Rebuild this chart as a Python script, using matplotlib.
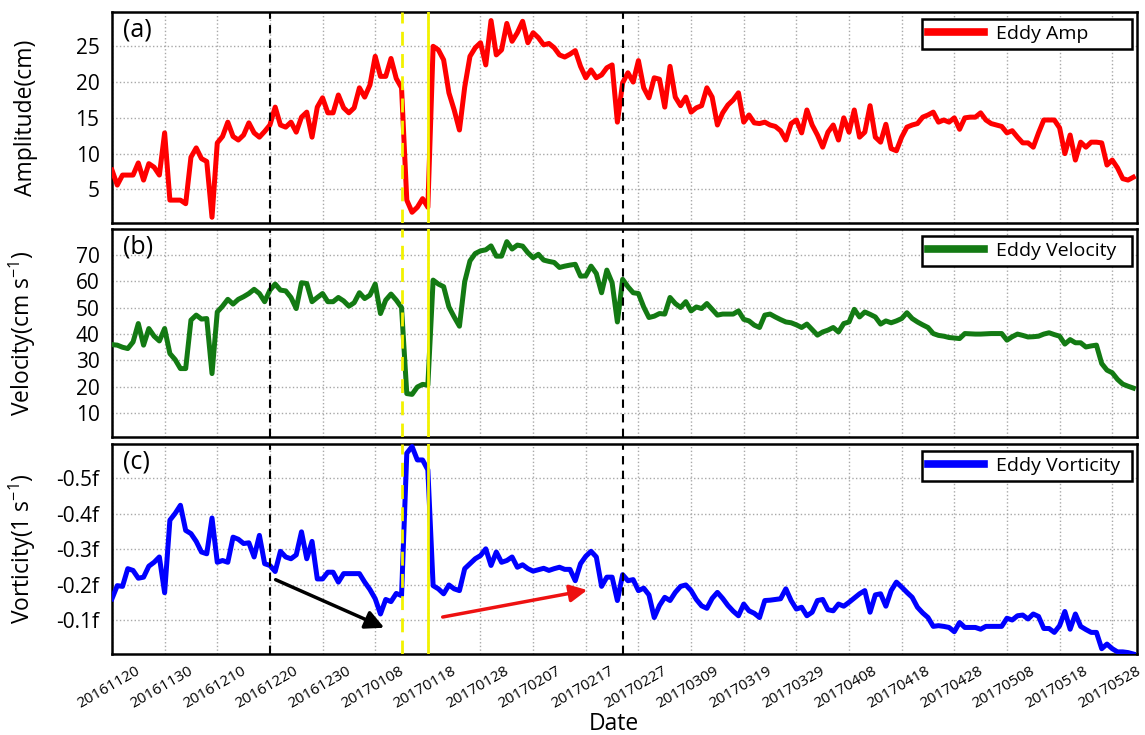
import numpy as np
import matplotlib
matplotlib.use("Agg")
import matplotlib.pyplot as plt
from matplotlib.ticker import FuncFormatter
from matplotlib.transforms import ScaledTranslation

plt.rcParams['font.family'] = ['Open Sans', 'DejaVu Sans']

# one label every 10 samples
dateLabels = ["20161120", "20161130", "20161210", "20161220", "20161230",
              "20170108", "20170118", "20170128", "20170207", "20170217",
              "20170227", "20170309", "20170319", "20170329", "20170408",
              "20170418", "20170428", "20170508", "20170518", "20170528"]

# daily eddy amplitude (cm)
amp = [7.7, 5.6, 7.0, 7.0, 7.0, 8.7, 6.3, 8.6, 8.1, 7.0,
       12.9, 3.5, 3.5, 3.5, 3.0, 9.5, 10.8, 9.3, 8.9, 1.1,
       11.5, 12.4, 14.4, 12.4, 11.9, 12.6, 14.3, 12.9, 12.3, 13.1,
       14.0, 16.5, 14.0, 13.7, 14.4, 13.0, 15.1, 15.8, 12.3, 16.5,
       17.8, 15.7, 15.7, 18.2, 16.4, 15.7, 16.4, 19.2, 17.9, 19.6,
       23.6, 20.8, 20.8, 23.3, 20.5, 19.2, 3.5, 1.8, 2.5, 3.7,
       2.5, 25.0, 24.5, 23.1, 18.5, 16.1, 13.3, 19.3, 23.6, 24.8,
       25.5, 22.4, 28.6, 23.8, 24.5, 28.2, 25.7, 26.9, 28.5, 25.5,
       26.9, 26.2, 25.2, 25.4, 24.8, 23.8, 23.5, 23.9, 24.4, 22.2,
       20.6, 21.7, 20.6, 21.0, 22.0, 22.4, 14.4, 19.9, 21.3, 20.0,
       23.0, 19.2, 17.8, 20.6, 20.4, 16.5, 22.2, 17.9, 16.7, 17.9,
       15.8, 16.4, 16.7, 19.2, 17.9, 14.0, 15.7, 16.8, 17.5, 18.5,
       14.4, 15.4, 14.3, 14.2, 14.4, 14.0, 13.8, 13.2, 11.9, 14.2,
       14.7, 12.9, 16.1, 14.0, 12.6, 10.9, 13.0, 14.0, 11.9, 15.0,
       13.0, 16.1, 12.3, 13.0, 16.7, 12.3, 11.6, 14.1, 10.7, 10.4,
       12.3, 13.7, 14.0, 14.2, 15.1, 15.4, 15.8, 14.4, 14.7, 14.4,
       15.0, 13.4, 15.0, 15.1, 15.1, 15.7, 14.7, 14.2, 14.0, 13.8,
       12.9, 13.2, 12.3, 11.5, 11.5, 10.9, 12.9, 14.7, 14.7, 14.7,
       13.6, 10.0, 12.6, 9.1, 11.6, 10.9, 11.6, 11.6, 11.5, 8.4,
       9.1, 8.0, 6.5, 6.3, 6.7]

# daily eddy velocity (cm/s)
vel = [36.0, 35.8, 35.0, 34.5, 37.0, 44.0, 35.8, 42.1, 39.2, 37.4,
       42.1, 32.6, 30.3, 26.9, 26.9, 45.3, 47.2, 45.7, 45.9, 25.0,
       48.4, 50.6, 53.2, 51.4, 53.2, 54.2, 55.4, 57.0, 55.4, 52.3,
       56.7, 59.0, 56.7, 56.4, 53.9, 49.7, 59.5, 59.2, 52.3, 53.9,
       55.4, 52.3, 52.3, 53.9, 52.6, 50.6, 51.9, 55.7, 53.5, 54.8,
       59.0, 47.8, 52.9, 55.2, 52.9, 50.1, 17.4, 17.1, 19.9, 20.9,
       20.6, 60.5, 59.0, 58.0, 50.3, 46.5, 43.0, 59.9, 67.8, 70.6,
       71.6, 72.0, 73.5, 69.6, 69.6, 75.1, 72.3, 73.8, 73.4, 70.9,
       69.0, 70.3, 68.1, 67.6, 67.2, 65.3, 65.8, 66.2, 66.5, 62.0,
       62.1, 65.8, 63.0, 55.7, 64.3, 59.5, 44.6, 60.8, 58.0, 55.7,
       55.4, 50.3, 46.3, 46.8, 47.8, 47.6, 53.9, 51.6, 50.1, 52.3,
       48.8, 50.3, 49.7, 51.6, 49.4, 47.2, 47.6, 47.6, 47.6, 48.8,
       45.6, 45.0, 43.4, 42.5, 47.2, 47.6, 46.5, 45.5, 44.6, 44.3,
       43.5, 42.5, 43.8, 41.7, 39.6, 40.8, 41.5, 42.5, 40.8, 44.0,
       44.6, 49.4, 46.5, 48.4, 47.5, 46.5, 43.8, 45.0, 44.3, 45.0,
       45.9, 48.1, 45.9, 44.6, 43.5, 42.5, 40.2, 39.5, 39.2, 38.7,
       38.5, 38.3, 40.2, 40.1, 40.0, 40.0, 40.1, 40.2, 40.2, 40.2,
       37.7, 39.0, 40.0, 39.5, 38.9, 39.0, 39.2, 40.0, 40.5, 39.8,
       39.2, 36.2, 37.9, 36.7, 36.7, 35.1, 35.5, 35.8, 28.8, 26.3,
       25.3, 22.8, 21.0, 20.2, 19.5]

# daily eddy vorticity (units of f)
vort = [-0.160, -0.197, -0.195, -0.245, -0.240, -0.218, -0.221, -0.252, -0.263, -0.278,
        -0.177, -0.382, -0.401, -0.424, -0.353, -0.344, -0.322, -0.292, -0.287, -0.388,
        -0.263, -0.268, -0.263, -0.334, -0.328, -0.316, -0.318, -0.278, -0.339, -0.259,
        -0.254, -0.237, -0.294, -0.278, -0.273, -0.284, -0.349, -0.273, -0.322, -0.216,
        -0.216, -0.235, -0.235, -0.207, -0.231, -0.231, -0.231, -0.231, -0.207, -0.186,
        -0.160, -0.117, -0.158, -0.152, -0.175, -0.169, -0.571, -0.590, -0.552, -0.552,
        -0.524, -0.197, -0.188, -0.174, -0.199, -0.188, -0.183, -0.245, -0.259, -0.273,
        -0.282, -0.301, -0.254, -0.292, -0.263, -0.268, -0.278, -0.249, -0.256, -0.245,
        -0.238, -0.242, -0.246, -0.240, -0.245, -0.249, -0.243, -0.243, -0.211, -0.259,
        -0.280, -0.294, -0.278, -0.195, -0.221, -0.221, -0.155, -0.228, -0.211, -0.214,
        -0.183, -0.190, -0.171, -0.107, -0.141, -0.164, -0.155, -0.178, -0.195, -0.199,
        -0.183, -0.158, -0.140, -0.133, -0.161, -0.178, -0.161, -0.141, -0.125, -0.112,
        -0.145, -0.126, -0.119, -0.107, -0.155, -0.156, -0.158, -0.160, -0.188, -0.155,
        -0.131, -0.136, -0.112, -0.122, -0.155, -0.158, -0.129, -0.126, -0.145, -0.139,
        -0.150, -0.162, -0.174, -0.183, -0.122, -0.171, -0.174, -0.139, -0.183, -0.207,
        -0.193, -0.178, -0.164, -0.136, -0.120, -0.107, -0.082, -0.084, -0.082, -0.079,
        -0.067, -0.093, -0.079, -0.079, -0.079, -0.074, -0.082, -0.082, -0.082, -0.082,
        -0.105, -0.100, -0.112, -0.114, -0.103, -0.117, -0.110, -0.076, -0.076, -0.065,
        -0.084, -0.124, -0.074, -0.117, -0.082, -0.073, -0.065, -0.065, -0.019, -0.032,
        -0.019, -0.010, -0.010, -0.008, -0.004]

blackDays = [30, 97]
yellowDays = [55, 60]

# arrows in panel (c): (start, end) as (day, vorticity)
blackArrow = ((30.6, -0.217), (52.2, -0.075))
redArrow = ((62.3, -0.107), (90.8, -0.186))

days = np.arange(len(amp))

fig = plt.figure(figsize=(11.45, 7.35), dpi=100)
axA = fig.add_axes([0.0978, 0.6966, 0.8952, 0.2871])
axB = fig.add_axes([0.0978, 0.4054, 0.8952, 0.2830])
axC = fig.add_axes([0.0978, 0.1102, 0.8952, 0.2857])


def styleAxis(ax, panel, ylabel):
    for s in ax.spines.values():
        s.set_linewidth(1.8)
        s.set_color("black")
    ax.set_xlim(0, 194.7)
    ax.set_xticks(np.arange(len(dateLabels)) * 10)
    ax.grid(True, color="#a8a8a8", linestyle=":", linewidth=1.0)
    ax.set_axisbelow(True)
    ax.tick_params(axis="both", length=0, labelsize=15, pad=9)
    for d in blackDays:
        ax.axvline(d, color="black", linestyle="--", dashes=(4, 3), linewidth=1.5, zorder=4)
    ax.axvline(yellowDays[0], color="#f2f200", linestyle="--", dashes=(5, 3), linewidth=2, zorder=4)
    ax.axvline(yellowDays[1], color="#f2f200", linewidth=2, zorder=4)
    ax.text(0.011, 0.975, panel, transform=ax.transAxes, fontsize=18, va="top", ha="left")
    ax.set_ylabel(ylabel, fontsize=16.5)
    ax.yaxis.set_label_coords(-0.072, 0.5)
    leg = ax.legend(loc="upper left", bbox_to_anchor=(0.79, 0.81, 0.205, 0.157),
                    mode="expand", borderaxespad=0, fancybox=False, edgecolor="black",
                    framealpha=1, fontsize=14, handlelength=2.9, handletextpad=0.6,
                    borderpad=0.3)
    leg.get_frame().set_linewidth(1.8)
    for h in leg.get_lines():
        h.set_linewidth(5.5)


axA.plot(days, amp, color="#ff0000", linewidth=3.6, label="Eddy Amp", zorder=3)
axA.set_ylim(0.3, 29.8)
axA.set_yticks([5, 10, 15, 20, 25])
styleAxis(axA, "(a)", "Amplitude(cm)")
axA.tick_params(labelbottom=False)

axB.plot(days, vel, color="#137a13", linewidth=3.6, label="Eddy Velocity", zorder=3)
axB.set_ylim(0.9, 79.9)
axB.set_yticks([10, 20, 30, 40, 50, 60, 70])
styleAxis(axB, "(b)", r"Velocity(cm s$^{\mathregular{-1}}$)")
axB.tick_params(labelbottom=False)

axC.plot(days, vort, color="#0000ff", linewidth=3.6, label="Eddy Vorticity", zorder=3)
axC.set_ylim(-0.004, -0.597)
axC.set_yticks([-0.1, -0.2, -0.3, -0.4, -0.5])
axC.yaxis.set_major_formatter(FuncFormatter(lambda v, p: "%.1ff" % v))
styleAxis(axC, "(c)", r"Vorticity(1 s$^{\mathregular{-1}}$)")
axC.set_xticklabels(dateLabels, rotation=30, ha="center", fontsize=11)
axC.tick_params(axis="x", pad=7)
shift = ScaledTranslation(-3 / 100, 0, fig.dpi_scale_trans)
for lab in axC.get_xticklabels():
    lab.set_transform(lab.get_transform() + shift)
axC.set_xlabel("Date", fontsize=16.5)
axC.xaxis.set_label_coords(0.49, -0.275)

axC.annotate("", xy=blackArrow[1], xytext=blackArrow[0],
             arrowprops=dict(arrowstyle="-|>", color="black", lw=2.5, mutation_scale=28),
             zorder=5)
axC.annotate("", xy=redArrow[1], xytext=redArrow[0],
             arrowprops=dict(arrowstyle="-|>", color="#ee1111", lw=2.5, mutation_scale=26),
             zorder=5)

fig.savefig("out.png", dpi=100)
